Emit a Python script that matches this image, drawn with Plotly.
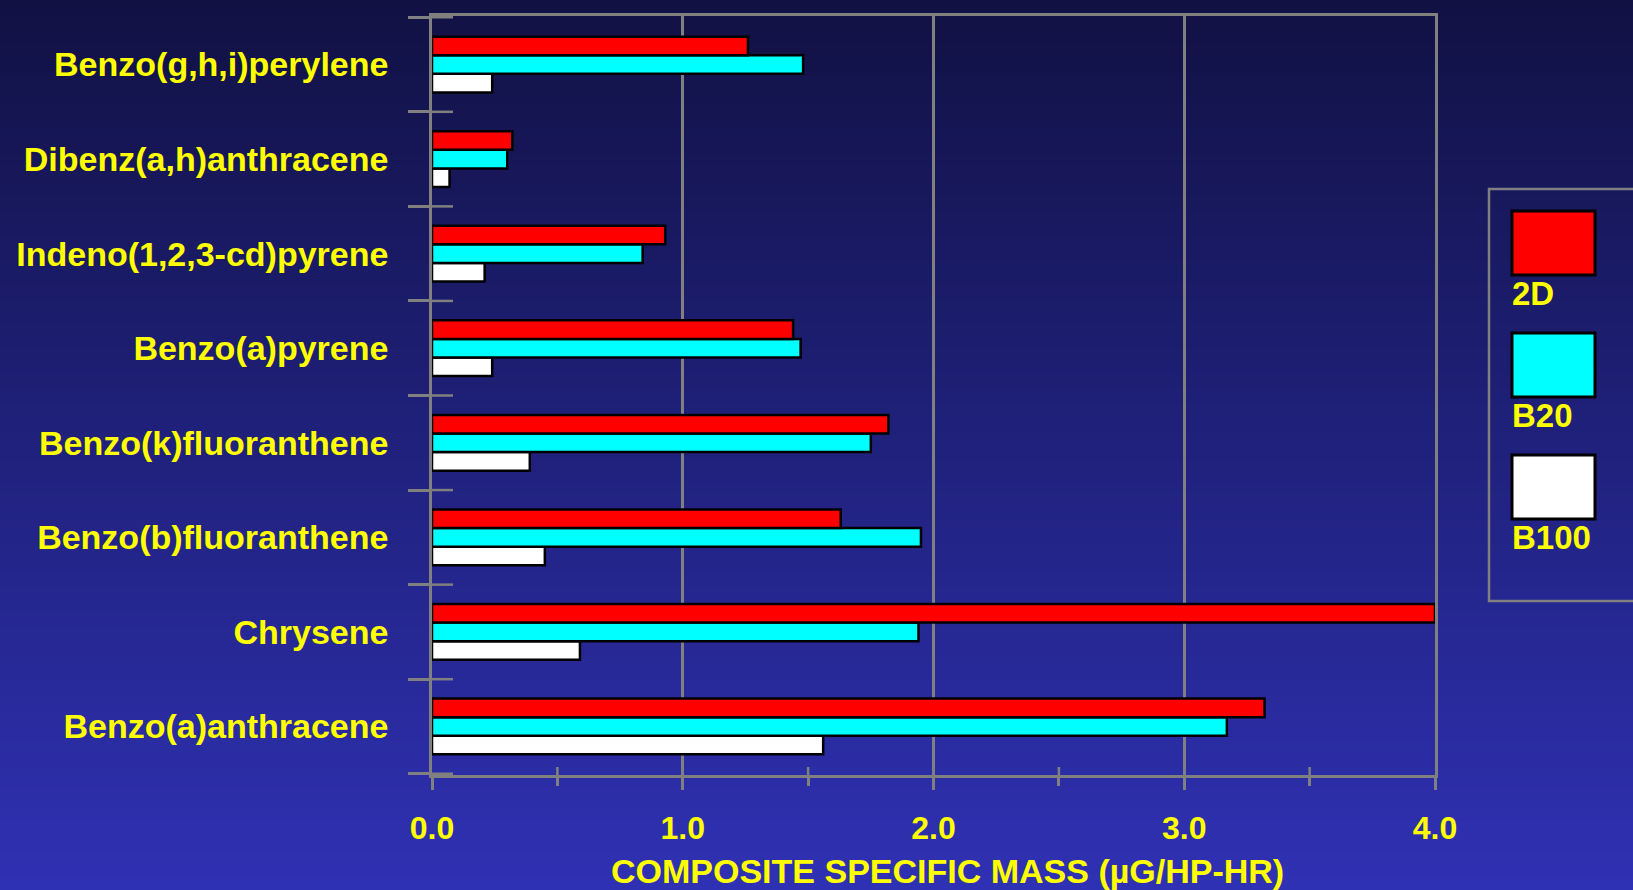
import base64
import struct
import zlib

import plotly.graph_objects as go

# ---------------- data ----------------
categories = [
    "Benzo(g,h,i)perylene",
    "Dibenz(a,h)anthracene",
    "Indeno(1,2,3-cd)pyrene",
    "Benzo(a)pyrene",
    "Benzo(k)fluoranthene",
    "Benzo(b)fluoranthene",
    "Chrysene",
    "Benzo(a)anthracene",
]
series_names = ["2D", "B20", "B100"]
values_2d = [1.26, 0.32, 0.93, 1.44, 1.82, 1.63, 4.00, 3.32]
values_b20 = [1.48, 0.30, 0.84, 1.47, 1.75, 1.95, 1.94, 3.17]
values_b100 = [0.24, 0.07, 0.21, 0.24, 0.39, 0.45, 0.59, 1.56]
x_tick_vals = [0, 1, 2, 3, 4]
x_tick_text = ["0.0", "1.0", "2.0", "3.0", "4.0"]
x_title = "COMPOSITE SPECIFIC MASS (µG/HP-HR)"

# ---------------- style ----------------
W, H = 1633, 890
ML, MR, MT, MB = 432, 198, 16, 115
PW, PH = W - ML - MR, H - MT - MB
YELLOW = "#ffff00"
GRAY = "rgb(128,128,128)"
FONT = "Liberation Sans, Arial, sans-serif"
colors = {"2D": "#ff0000", "B20": "#00ffff", "B100": "#ffffff"}


def px(X):
    return (X - ML) / PW


def py(Y):
    return (MT + PH - Y) / PH


# gradient background png
def gradient_png(top, bottom, n=256):
    rows = []
    for i in range(n):
        t = i / (n - 1)
        c = bytes(int(round(top[k] + (bottom[k] - top[k]) * t)) for k in range(3))
        rows.append(b"\x00" + c * 2)
    raw = b"".join(rows)

    def chunk(tag, data):
        return (struct.pack(">I", len(data)) + tag + data
                + struct.pack(">I", zlib.crc32(tag + data) & 0xffffffff))

    png = (b"\x89PNG\r\n\x1a\n"
           + chunk(b"IHDR", struct.pack(">IIBBBBB", 2, n, 8, 2, 0, 0, 0))
           + chunk(b"IDAT", zlib.compress(raw))
           + chunk(b"IEND", b""))
    return "data:image/png;base64," + base64.b64encode(png).decode()


bg_src = gradient_png((17, 17, 68), (47, 49, 180))

fig = go.Figure()
# first trace is drawn lowest inside each group
for name, vals in [("B100", values_b100), ("B20", values_b20), ("2D", values_2d)]:
    fig.add_trace(go.Bar(
        name=name, y=categories, x=vals, orientation="h",
        marker=dict(color=colors[name], line=dict(color="black", width=2.5)),
        showlegend=False,
    ))

shapes = []
# inside halves of the crossing category ticks on the y axis
for i in range(len(categories) + 1):
    shapes.append(dict(type="line", xref="x", yref="y", xsizemode="pixel", xanchor=0,
                       x0=0, x1=21, y0=i - 0.5, y1=i - 0.5,
                       line=dict(color=GRAY, width=2.5)))
# inside halves of the minor ticks on the x axis
for k in range(len(x_tick_vals) - 1):
    xm = (x_tick_vals[k] + x_tick_vals[k + 1]) / 2
    shapes.append(dict(type="line", xref="x", yref="paper", ysizemode="pixel", yanchor=0,
                       x0=xm, x1=xm, y0=0, y1=8,
                       line=dict(color=GRAY, width=2.5)))

# custom legend
shapes.append(dict(type="rect", xref="paper", yref="paper",
                   x0=px(1489), x1=px(1660), y0=py(601), y1=py(189),
                   line=dict(color=GRAY, width=2.5), fillcolor="rgba(0,0,0,0)"))
swatch_tops = [211, 333, 455]
annotations = []
for name, top in zip(series_names, swatch_tops):
    shapes.append(dict(type="rect", xref="paper", yref="paper",
                       x0=px(1512), x1=px(1595), y0=py(top + 64), y1=py(top),
                       line=dict(color="black", width=3), fillcolor=colors[name]))
    annotations.append(dict(text=name, xref="paper", yref="paper", x=px(1510), y=py(top + 82),
                            xanchor="left", yanchor="middle", showarrow=False,
                            font=dict(family=FONT, size=33, color=YELLOW, weight="bold")))

annotations.append(dict(text=x_title, xref="paper", yref="paper", x=px(947), y=py(871),
                        xanchor="center", yanchor="middle", showarrow=False,
                        font=dict(family=FONT, size=34, color=YELLOW, weight="bold")))

fig.update_layout(
    width=W, height=H,
    margin=dict(l=ML, r=MR, t=MT, b=MB, pad=0),
    barmode="group", bargap=0.41, bargroupgap=0,
    paper_bgcolor="rgb(32,33,124)", plot_bgcolor="rgba(0,0,0,0)",
    showlegend=False,
    shapes=shapes, annotations=annotations,
    images=[dict(source=bg_src, xref="paper", yref="paper", x=px(0), y=py(0),
                 sizex=W / PW, sizey=H / PH, sizing="stretch", layer="below",
                 xanchor="left", yanchor="top")],
    xaxis=dict(
        range=[0, 4], tickvals=x_tick_vals, ticktext=x_tick_text,
        showgrid=True, gridcolor=GRAY, gridwidth=2.5, zeroline=False,
        showline=True, linecolor=GRAY, linewidth=2.5, mirror=True,
        ticks="outside", ticklen=12, tickwidth=2.5, tickcolor=GRAY,
        minor=dict(dtick=0.5, ticks="outside", ticklen=8, tickwidth=2.5, tickcolor=GRAY, showgrid=False),
        tickfont=dict(family=FONT, size=32, color=YELLOW, weight="bold"),
        ticklabelstandoff=11,
    ),
    yaxis=dict(
        type="category", categoryorder="array", categoryarray=categories[::-1],
        tickson="boundaries", ticks="outside", ticklen=21, tickwidth=2.5, tickcolor=GRAY,
        showgrid=False, zeroline=False,
        showline=True, linecolor=GRAY, linewidth=2.5, mirror=True,
        tickfont=dict(family=FONT, size=34, color=YELLOW, weight="bold"),
        ticklabelstandoff=34,
    ),
)

fig.write_html(
    "out.html",
    config={"displayModeBar": False},
    post_script="document.body.style.margin='0';document.body.style.overflow='hidden';",
)
